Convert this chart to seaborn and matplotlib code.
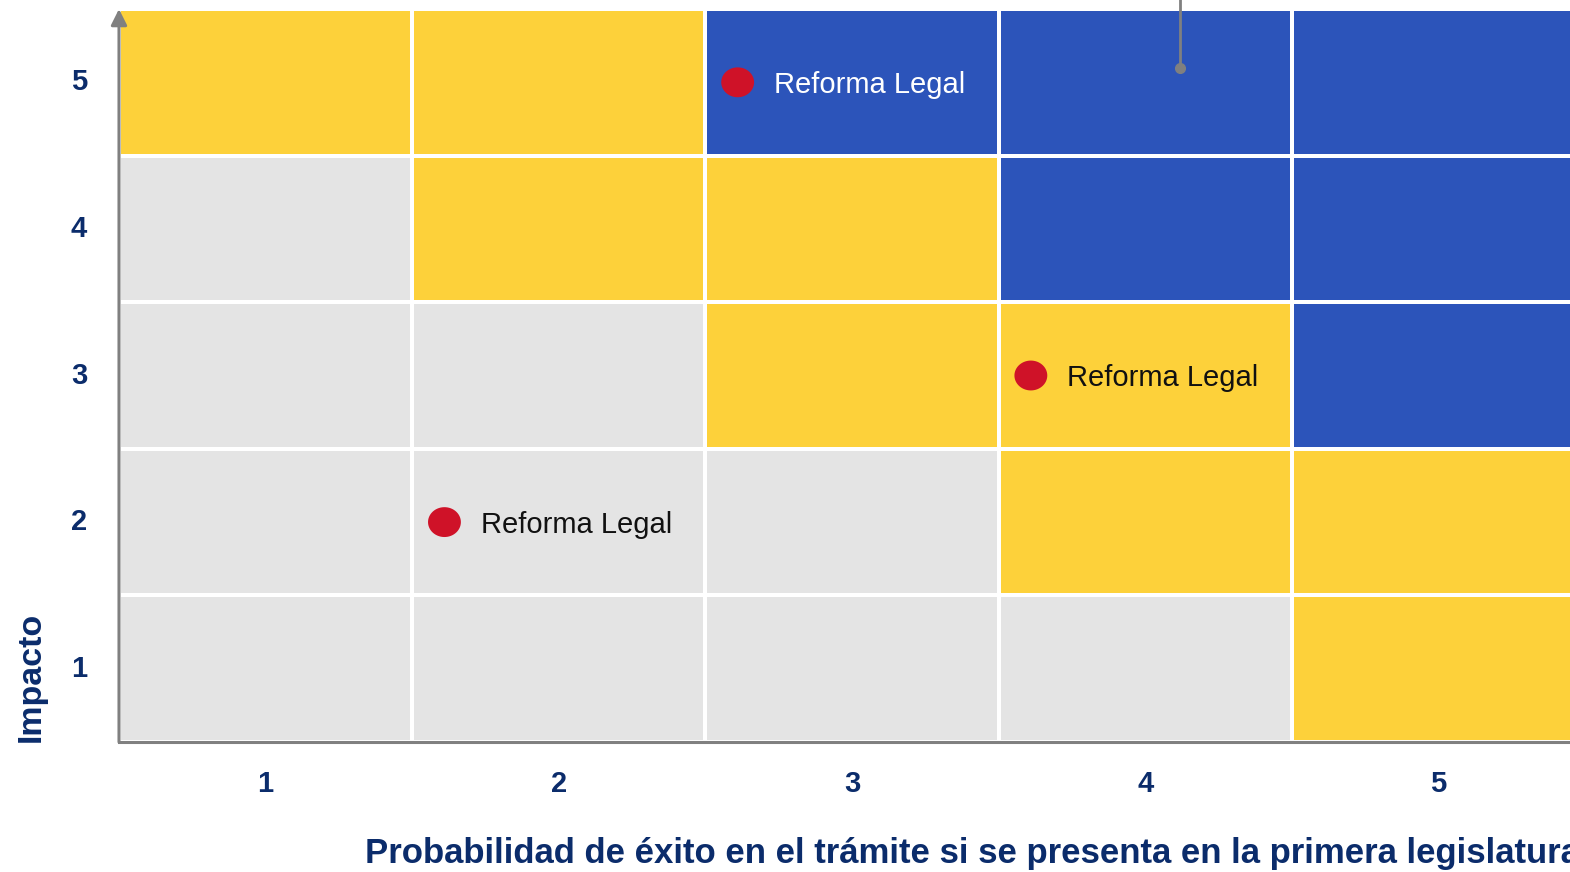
import numpy as np
import pandas as pd
import matplotlib
matplotlib.use("Agg")
import matplotlib.pyplot as plt
from matplotlib.colors import ListedColormap
from matplotlib.path import Path
import seaborn as sns

# ---- data -------------------------------------------------------------
prob_levels = [1, 2, 3, 4, 5]          # columns (x)
impact_levels = [5, 4, 3, 2, 1]        # rows, top to bottom (y)

# zone per cell: 0 = low (gray), 1 = medium (yellow), 2 = high (blue)
zone_impact_5 = [1, 1, 2, 2, 2]
zone_impact_4 = [0, 1, 1, 2, 2]
zone_impact_3 = [0, 0, 1, 1, 2]
zone_impact_2 = [0, 0, 0, 1, 1]
zone_impact_1 = [0, 0, 0, 0, 1]

item_labels = ["Reforma Legal", "Reforma Legal", "Reforma Legal"]
item_prob = [3, 4, 2]
item_impact = [5, 3, 2]

x_title = "Probabilidad de éxito en el trámite si se presenta en la primera legislatura"
y_title = "Impacto"

# ---- style ------------------------------------------------------------
GRAY, YELLOW, BLUE = "#E4E4E4", "#FDD13A", "#2C54BA"
RED = "#CF1228"
NAVY = "#0B2C6B"
AXIS = "#808080"

sns.set_style("white")
plt.rcParams["font.family"] = ["Liberation Sans", "DejaVu Sans"]

zones = pd.DataFrame(
    [zone_impact_5, zone_impact_4, zone_impact_3, zone_impact_2, zone_impact_1],
    index=impact_levels, columns=prob_levels,
)

fig = plt.figure(figsize=(15.7, 8.72), dpi=100)
ax = fig.add_axes([119 / 1570, 130 / 872, 1466 / 1570, 733 / 872])

sns.heatmap(
    zones, ax=ax, cmap=ListedColormap([GRAY, YELLOW, BLUE]), vmin=-0.5, vmax=2.5,
    cbar=False, linewidths=1.5, linecolor="white", square=False,
)

ax.set_xlabel("")
ax.set_ylabel("")
ax.tick_params(axis="both", length=0)
ax.tick_params(axis="x", pad=20)
ax.tick_params(axis="y", pad=23)
for lab in ax.get_xticklabels() + ax.get_yticklabels():
    lab.set_fontsize(21)
    lab.set_fontweight("bold")
    lab.set_color(NAVY)
    lab.set_rotation(0)

# axis lines: gray bottom spine, gray left spine with arrow
for side in ["top", "right", "left"]:
    ax.spines[side].set_visible(False)
ax.spines["bottom"].set_visible(True)
ax.spines["bottom"].set_color(AXIS)
ax.spines["bottom"].set_linewidth(2.2)
ax.spines["bottom"].set_zorder(5)
ax.annotate(
    "", xy=(0, 1.0), xytext=(0, 0), xycoords="axes fraction",
    arrowprops=dict(arrowstyle="-|>", color=AXIS, lw=2.2, mutation_scale=24,
                    shrinkA=0, shrinkB=0),
    annotation_clip=False, zorder=6,
)

# items
theta = np.linspace(0, 2 * np.pi, 60)
ellipse = Path(np.c_[1.1 * np.cos(theta), np.sin(theta)])
col_pos = {p: i for i, p in enumerate(prob_levels)}
row_pos = {v: i for i, v in enumerate(impact_levels)}
items = pd.DataFrame({
    "label": item_labels,
    "x": [col_pos[p] + 0.11 for p in item_prob],
    "y": [row_pos[v] + 0.5 for v in item_impact],
    "zone": [zones.loc[v, p] for p, v in zip(item_prob, item_impact)],
})
sns.scatterplot(data=items, x="x", y="y", ax=ax, marker=ellipse, s=560,
                color=RED, edgecolor="none", zorder=4, legend=False)
for _, r in items.iterrows():
    ax.text(r["x"] + 0.123, r["y"], r["label"], fontsize=21,
            color="white" if r["zone"] == 2 else "#111111",
            ha="left", va="center_baseline", zorder=5)
ax.set_xlabel("")
ax.set_ylabel("")

# leader line coming from above the plot
ax.plot([3.619, 3.619], [-0.3, 0.40], color=AXIS, lw=2, clip_on=False, zorder=5)
ax.plot([3.619], [0.40], marker="o", ms=7, color=AXIS, clip_on=False, zorder=5)

fig.text(365 / 1570, 1 - 853 / 872, x_title, fontsize=25, fontweight="bold",
         color=NAVY, ha="left", va="center")
fig.text(31 / 1570, 1 - 742 / 872, y_title, fontsize=24.5, fontweight="bold",
         color=NAVY, rotation=90, ha="center", va="bottom")

fig.savefig("out.png", dpi=100)
